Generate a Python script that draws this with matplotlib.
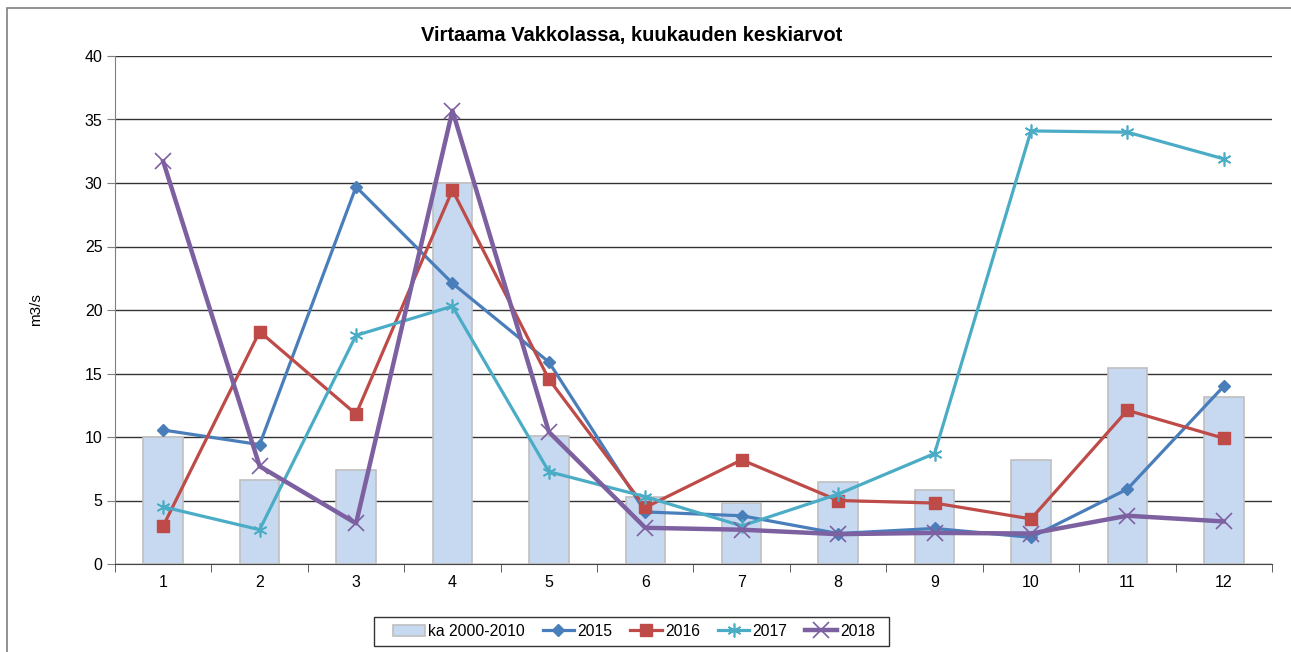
import numpy as np
import matplotlib
matplotlib.use("Agg")
import matplotlib.pyplot as plt
from matplotlib.patches import Rectangle

plt.rcParams['font.family'] = ['Liberation Sans', 'DejaVu Sans']

months = [1, 2, 3, 4, 5, 6, 7, 8, 9, 10, 11, 12]
ka_2000_2010 = [10.0, 6.6, 7.4, 30.0, 10.1, 5.3, 4.8, 6.45, 5.85, 8.2, 15.4, 13.15]
v2015 = [10.55, 9.4, 29.7, 22.1, 15.9, 4.1, 3.8, 2.4, 2.8, 2.1, 5.9, 14.0]
v2016 = [3.0, 18.3, 11.8, 29.45, 14.55, 4.45, 8.2, 5.0, 4.8, 3.55, 12.1, 9.9]
v2017 = [4.5, 2.7, 18.0, 20.3, 7.27, 5.3, 3.0, 5.5, 8.7, 34.1, 34.0, 31.9]
v2018 = [31.7, 7.7, 3.2, 35.7, 10.4, 2.85, 2.7, 2.35, 2.45, 2.4, 3.8, 3.35]

W, H = 1291, 652
fig = plt.figure(figsize=(W / 100, H / 100), dpi=100)
ax = fig.add_axes([115 / W, 1 - 564 / H, (1272 - 115) / W, (564 - 56) / H])

# chart border (left and top visible)
fig.patches.append(Rectangle((7 / W, -0.1), 1.2, 1 - 8 / H + 0.1, transform=fig.transFigure,
                             fill=False, edgecolor='#7f7f7f', linewidth=1.2))

x = np.array(months)
bars = ax.bar(x, ka_2000_2010, width=0.41, color='#C6D9F1', edgecolor='#BFBFBF', linewidth=1.2,
              label='ka 2000-2010', zorder=2)
l15, = ax.plot(x, v2015, color='#4A7EBB', lw=2.3, marker='D', ms=6, label='2015', zorder=3)
l16, = ax.plot(x, v2016, color='#BE4B48', lw=2.3, marker='s', ms=8, label='2016', zorder=4)
l17, = ax.plot(x, v2017, color='#4BACC6', lw=2.3, marker=(6, 2, 0), ms=10, mew=1.2, label='2017', zorder=5)
l18, = ax.plot(x, v2018, color='#7D60A0', lw=3.2, marker='x', ms=11, mew=1.2, label='2018', zorder=6)

ax.set_xlim(0.5, 12.5)
ax.set_ylim(0, 40)
ax.set_yticks(range(0, 41, 5))
ax.set_xticks(x)
ax.set_xticks(np.arange(0.5, 13, 1), minor=True)
ax.tick_params(axis='x', which='major', length=0, pad=8, labelsize=11.5)
ax.tick_params(axis='x', which='minor', length=6, direction='out', color='#444444')
ax.tick_params(axis='y', length=6, direction='out', color='#7f7f7f', labelsize=11.5, pad=3)
ax.yaxis.grid(True, color='#333333', linewidth=1)
ax.set_axisbelow(True)
for s in ['top', 'right']:
    ax.spines[s].set_visible(False)
ax.spines['left'].set_color('#7f7f7f')
ax.spines['bottom'].set_color('#444444')
ax.set_ylabel('m3/s', fontsize=11, labelpad=30)

fig.text(632 / W, 1 - 35 / H, 'Virtaama Vakkolassa, kuukauden keskiarvot',
         ha='center', va='center', fontsize=14.5, fontweight='bold')

# legend without its own frame; frame drawn separately (wider side padding like Excel)
leg = fig.legend([bars, l15, l16, l17, l18], ['ka 2000-2010', '2015', '2016', '2017', '2018'],
                 loc='center', bbox_to_anchor=(634 / W, 1 - 631 / H), ncol=5, fontsize=11.3,
                 frameon=False, handlelength=2.0, columnspacing=1.15, handletextpad=0.2)
fig.patches.append(Rectangle((374 / W, 1 - 646 / H), (889 - 374) / W, 29 / H, transform=fig.transFigure,
                             fill=False, edgecolor='#333333', linewidth=1))

fig.savefig('out.png', dpi=100)
